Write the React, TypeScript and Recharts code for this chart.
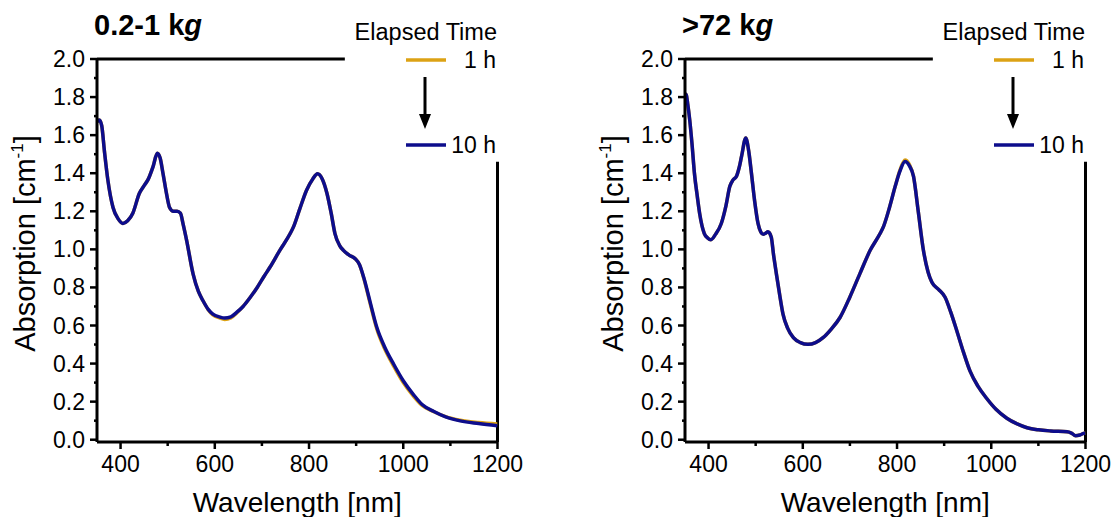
import React from 'react';
import { LineChart, Line, XAxis, YAxis, ReferenceLine, Legend } from 'recharts';

const FONT = '"Liberation Sans", Arial, Helvetica, sans-serif';
const ORANGE = '#dca214';
const NAVY = '#0d0d8c';

const X_TICKS = [400, 500, 600, 700, 800, 900, 1000, 1100, 1200];
const Y_TICKS = [0, 0.1, 0.2, 0.3, 0.4, 0.5, 0.6, 0.7, 0.8, 0.9, 1.0, 1.1, 1.2, 1.3, 1.4, 1.5, 1.6, 1.7, 1.8, 1.9, 2.0];

const SERIES_NAMES = ['1 h', '10 h'];

// panel A: 0.2-1 kg
const WL_A = [350, 355, 360, 366, 373, 384, 395, 405, 415, 426, 440, 450, 458, 469, 478, 484, 490, 497, 504, 512, 520, 527, 533, 540, 554, 565, 575, 586, 596, 610, 621, 634, 646, 660, 675, 690, 705, 717, 738, 760, 767, 780, 795, 808, 818, 828, 838, 847, 855, 865, 873, 885, 898, 907, 916, 930, 944, 960, 980, 1000, 1022, 1040, 1065, 1090, 1121, 1160, 1200];
const A_1H = [1.67, 1.68, 1.65, 1.51, 1.365, 1.22, 1.16, 1.136, 1.15, 1.19, 1.295, 1.335, 1.365, 1.435, 1.505, 1.48, 1.40, 1.30, 1.22, 1.20, 1.20, 1.19, 1.13, 1.05, 0.87, 0.78, 0.73, 0.683, 0.655, 0.64, 0.632, 0.64, 0.665, 0.70, 0.747, 0.80, 0.86, 0.906, 0.995, 1.083, 1.118, 1.21, 1.312, 1.37, 1.397, 1.37, 1.295, 1.19, 1.083, 1.02, 0.995, 0.97, 0.951, 0.92, 0.85, 0.712, 0.58, 0.48, 0.385, 0.30, 0.228, 0.18, 0.147, 0.121, 0.102, 0.09, 0.082];
const A_10H = [1.67, 1.68, 1.65, 1.51, 1.365, 1.22, 1.16, 1.136, 1.15, 1.19, 1.295, 1.335, 1.365, 1.435, 1.505, 1.48, 1.40, 1.30, 1.22, 1.20, 1.20, 1.19, 1.13, 1.05, 0.87, 0.78, 0.73, 0.685, 0.66, 0.645, 0.639, 0.645, 0.668, 0.70, 0.747, 0.80, 0.86, 0.906, 0.995, 1.083, 1.118, 1.21, 1.312, 1.37, 1.397, 1.37, 1.295, 1.19, 1.083, 1.02, 0.995, 0.97, 0.951, 0.92, 0.853, 0.72, 0.589, 0.49, 0.395, 0.31, 0.236, 0.185, 0.148, 0.12, 0.099, 0.085, 0.073];

// panel B: >72 kg
const WL_B = [350, 352, 356, 360, 365, 370, 376, 381, 391, 398, 405, 415, 427, 437, 445, 452, 459, 465, 470, 479, 485, 491, 498, 505, 511, 516, 521, 526, 533, 538, 544, 551, 558, 568, 580, 595, 611, 627, 643, 660, 679, 700, 721, 743, 764, 771, 784, 796, 806, 817, 826, 835, 845, 856, 866, 874, 888, 902, 914, 927, 941, 955, 972, 990, 1010, 1033, 1055, 1076, 1100, 1126, 1161, 1170, 1179, 1188, 1196, 1200];
const B_1H = [1.80, 1.815, 1.76, 1.68, 1.55, 1.40, 1.28, 1.19, 1.083, 1.06, 1.051, 1.08, 1.136, 1.23, 1.33, 1.365, 1.383, 1.43, 1.488, 1.585, 1.52, 1.40, 1.25, 1.136, 1.09, 1.079, 1.085, 1.092, 1.065, 0.97, 0.871, 0.76, 0.66, 0.585, 0.536, 0.51, 0.501, 0.51, 0.536, 0.58, 0.642, 0.75, 0.871, 0.995, 1.083, 1.118, 1.22, 1.33, 1.415, 1.47, 1.447, 1.383, 1.20, 0.995, 0.88, 0.827, 0.79, 0.748, 0.67, 0.571, 0.46, 0.36, 0.28, 0.218, 0.16, 0.113, 0.083, 0.063, 0.052, 0.046, 0.042, 0.035, 0.021, 0.025, 0.033, 0.035];
const B_10H = [1.80, 1.815, 1.76, 1.68, 1.55, 1.40, 1.28, 1.19, 1.083, 1.06, 1.051, 1.08, 1.136, 1.23, 1.33, 1.365, 1.383, 1.43, 1.488, 1.585, 1.52, 1.40, 1.25, 1.136, 1.09, 1.079, 1.085, 1.092, 1.065, 0.97, 0.871, 0.76, 0.66, 0.585, 0.536, 0.51, 0.501, 0.51, 0.536, 0.58, 0.642, 0.75, 0.871, 0.995, 1.083, 1.118, 1.22, 1.33, 1.41, 1.462, 1.44, 1.383, 1.20, 0.995, 0.88, 0.827, 0.79, 0.748, 0.67, 0.571, 0.46, 0.36, 0.28, 0.218, 0.16, 0.113, 0.083, 0.063, 0.052, 0.046, 0.042, 0.035, 0.021, 0.025, 0.033, 0.035];

const Y_MIN = -0.012;

const XTick = (props: any) => {
  const { x, y, payload } = props;
  const major = payload.value % 200 === 0;
  return (
    <g>
      <line x1={x} x2={x} y1={y} y2={y + (major ? 7 : 4)} stroke="#000" strokeWidth={2.5} />
      {major && (
        <text x={x} y={y + 30} textAnchor="middle" fontSize={23} fontFamily={FONT} fill="#000">
          {payload.value}
        </text>
      )}
    </g>
  );
};

const YTick = (props: any) => {
  const { x, y, payload } = props;
  const major = Math.round(payload.value * 10) % 2 === 0;
  return (
    <g>
      <line x1={x - (major ? 7 : 3)} x2={x} y1={y} y2={y} stroke="#000" strokeWidth={2.5} />
      {major && (
        <text x={x - 12} y={y + 8} textAnchor="end" fontSize={23} fontFamily={FONT} fill="#000">
          {payload.value.toFixed(1)}
        </text>
      )}
    </g>
  );
};

const XLabel = (props: any) => {
  const { x, y, width } = props.viewBox;
  return (
    <text x={x + width / 2} y={y + 70} textAnchor="middle" fontSize={28} fontFamily={FONT} fill="#000">
      Wavelength [nm]
    </text>
  );
};

const YLabel = (props: any) => {
  const { y, height } = props.viewBox;
  return (
    <text
      transform={`translate(35, ${y + height / 2 - 7}) rotate(-90)`}
      textAnchor="middle"
      fontSize={29}
      fontFamily={FONT}
      fill="#000"
    >
      Absorption [cm
      <tspan dy={-12} fontSize={17}>-1</tspan>
      <tspan dy={12}>]</tspan>
    </text>
  );
};

function Header({ title }: { title: string }) {
  return (
    <svg width={520} height={170} style={{ display: 'block', fontFamily: FONT }}>
      <text x={94} y={35} fontSize={29} fontWeight="bold" fill="#000">
        {title} k<tspan fontStyle="italic">g</tspan>
      </text>
      <text x={497} y={40} textAnchor="end" fontSize={23.5} fill="#000">Elapsed Time</text>
      <line x1={406} x2={446} y1={60} y2={60} stroke={ORANGE} strokeWidth={3.5} />
      <text x={496} y={68} textAnchor="end" fontSize={23} fill="#000">{SERIES_NAMES[0]}</text>
      <line x1={425} x2={425} y1={77} y2={117} stroke="#000" strokeWidth={3} />
      <polygon points="419,114 431,114 425,129" fill="#000" />
      <line x1={406} x2={446} y1={145} y2={145} stroke={NAVY} strokeWidth={3.5} />
      <text x={496} y={153} textAnchor="end" fontSize={23} fill="#000">{SERIES_NAMES[1]}</text>
    </svg>
  );
}

function Panel({ title, wl, h1, h10 }: { title: string; wl: number[]; h1: number[]; h10: number[] }) {
  const data = wl.map((w, i) => ({ wl: w, h1: h1[i], h10: h10[i] }));
  return (
    <LineChart width={527} height={517} data={data} margin={{ top: 59, right: 29.5, bottom: 15, left: 37 }}>
      <XAxis
        dataKey="wl"
        type="number"
        domain={[350, 1200]}
        ticks={X_TICKS}
        interval={0}
        height={60}
        tickSize={0}
        tickMargin={0}
        tickLine={false}
        axisLine={{ stroke: '#000', strokeWidth: 3 }}
        tick={<XTick />}
        label={<XLabel />}
        allowDataOverflow
      />
      <YAxis
        type="number"
        domain={[Y_MIN, 2.0]}
        ticks={Y_TICKS}
        interval={0}
        width={60}
        tickSize={0}
        tickMargin={0}
        tickLine={false}
        axisLine={{ stroke: '#000', strokeWidth: 3 }}
        tick={<YTick />}
        label={<YLabel />}
        allowDataOverflow
      />
      <ReferenceLine segment={[{ x: 350, y: 2.0 }, { x: 876, y: 2.0 }]} stroke="#000" strokeWidth={3} ifOverflow="visible" />
      <ReferenceLine segment={[{ x: 1200, y: Y_MIN }, { x: 1200, y: 1.46 }]} stroke="#000" strokeWidth={3} ifOverflow="visible" />
      <Line type="monotone" dataKey="h1" name={SERIES_NAMES[0]} stroke={ORANGE} strokeWidth={3.5} dot={false} isAnimationActive={false} />
      <Line type="monotone" dataKey="h10" name={SERIES_NAMES[1]} stroke={NAVY} strokeWidth={3.5} dot={false} isAnimationActive={false} />
      <Legend
        layout="horizontal"
        verticalAlign="middle"
        align="center"
        content={() => <Header title={title} />}
        wrapperStyle={{ position: 'absolute', left: 0, top: 0, width: 520, height: 170, pointerEvents: 'none' }}
      />
    </LineChart>
  );
}

export default function App() {
  return (
    <div style={{ position: 'absolute', left: 0, top: 0, width: 1115, height: 517, overflow: 'hidden', background: '#fff' }}>
      <div style={{ position: 'absolute', left: 0, top: 0 }}>
        <Panel title="0.2-1" wl={WL_A} h1={A_1H} h10={A_10H} />
      </div>
      <div style={{ position: 'absolute', left: 588, top: 0 }}>
        <Panel title=">72" wl={WL_B} h1={B_1H} h10={B_10H} />
      </div>
    </div>
  );
}
